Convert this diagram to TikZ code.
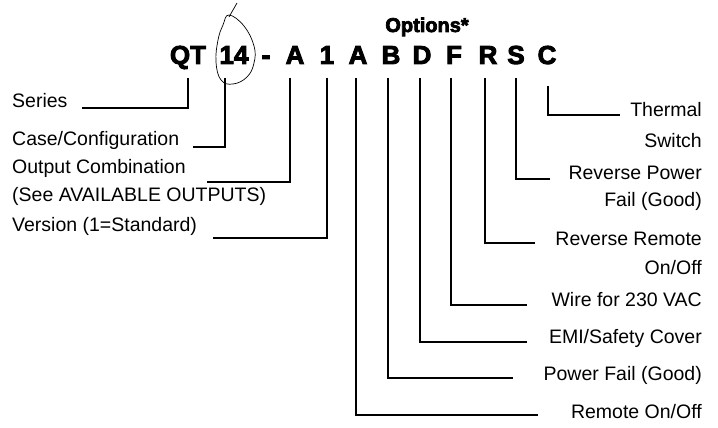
\documentclass[tikz,border=0pt]{standalone}
\usepackage{fontspec}
\setmainfont{Liberation Sans}
\newfontfamily\heavy[FakeBold=3.5]{Liberation Sans Bold}
\begin{document}
\begin{tikzpicture}[x=1pt,y=-1pt,
  lbl/.style={font=\fontsize{19.5}{24}\selectfont, inner sep=0pt},
  lft/.style={lbl, anchor=base west},
  rgt/.style={lbl, anchor=base east},
  code/.style={font=\heavy\fontsize{26}{30}\selectfont, inner sep=0pt, anchor=base},
  lead/.style={line width=2.2pt, line join=miter},
  hand/.style={line width=0.7pt}]
\useasboundingbox (0,0) rectangle (718,428);
\fill[white] (0,0) rectangle (718,428);

% header
\node[font=\heavy\fontsize{20}{24}\selectfont, inner sep=0pt, anchor=base] (opt) at (427,32) {Options*};
\node[code] (cQT) at (188,64) {QT};
\node[code] (c14) at (234,64) {14};
\node[code] (cdash) at (266,64) {-};
\node[code] (cA) at (295,64) {A};
\node[code] (c1) at (327,64) {1};
\node[code] (cA2) at (358,64) {A};
\node[code] (cB) at (391,64) {B};
\node[code] (cD) at (422,64) {D};
\node[code] (cF) at (454,64) {F};
\node[code] (cR) at (488,64) {R};
\node[code] (cS) at (516,64) {S};
\node[code] (cC) at (547,64) {C};

% hand-drawn loop around 14
\draw[hand] plot[smooth cycle, tension=0.7] coordinates {(229,15) (244,26) (254,46) (254,63) (247,77) (233,84) (221,80) (216,62) (218,40) (223,25)};
\draw[hand] (237,3) -- (229,17);

% left labels
\node[lft] (series) at (12,107) {Series};
\node[lft] (case) at (12,145) {Case/Configuration};
\node[lft] (outp) at (12,173) {Output Combination};
\node[lft] (outp2) at (12,201) {(See AVAILABLE OUTPUTS)};
\node[lft] (vers) at (12,231) {Version (1=Standard)};

% right labels
\node[rgt] (therm) at (702,117) {Thermal};
\node[rgt] (therm2) at (702,147) {Switch};
\node[rgt] (rpf) at (702,179) {Reverse Power};
\node[rgt] (rpf2) at (702,206) {Fail (Good)};
\node[rgt] (rro) at (702,245) {Reverse Remote};
\node[rgt] (rro2) at (702,274) {On/Off};
\node[rgt] (wire) at (702,306) {Wire for 230 VAC};
\node[rgt] (emi) at (702,343) {EMI/Safety Cover};
\node[rgt] (pf) at (702,380) {Power Fail (Good)};
\node[rgt] (rem) at (702,418) {Remote On/Off};

% leader start/end points
\coordinate (tQT) at (188,78);  \coordinate (eQT) at (82,108);
\coordinate (t14) at (225,78);  \coordinate (e14) at (193,147);
\coordinate (tA) at (290,78);   \coordinate (eA) at (207,182);
\coordinate (t1) at (327,78);   \coordinate (e1) at (213,238);
\coordinate (tA2) at (356,78);  \coordinate (eA2) at (538,415);
\coordinate (tB) at (388,78);   \coordinate (eB) at (513,378);
\coordinate (tD) at (420,78);   \coordinate (eD) at (527,342);
\coordinate (tF) at (451,78);   \coordinate (eF) at (527,305);
\coordinate (tR) at (485,78);   \coordinate (eR) at (535,243);
\coordinate (tS) at (516,78);   \coordinate (eS) at (550,179);
\coordinate (tC) at (548,86);   \coordinate (eC) at (620,115);

\foreach \n in {QT,14,A,1,A2,B,D,F,R,S,C}
  \draw[lead] (t\n) |- (e\n);
\end{tikzpicture}
\end{document}
